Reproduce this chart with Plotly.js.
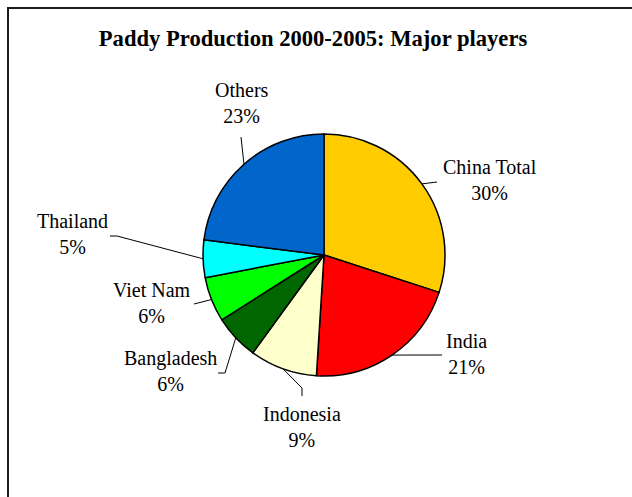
<!DOCTYPE html>
<html>
<head>
<meta charset="utf-8">
<script src="https://cdn.plot.ly/plotly-3.0.1.min.js"></script>
<style>html,body{margin:0;padding:0;background:#fff;}#chart{width:632px;height:497px;}</style>
</head>
<body>
<div id="chart"></div>
<script>
// ---- data ----
var categories = ["China Total", "India", "Indonesia", "Bangladesh", "Viet Nam", "Thailand", "Others"];
var shares = [30, 21, 9, 6, 6, 5, 23];
var sliceColors = ["#FFCC00", "#FF0000", "#FFFFCC", "#006600", "#00FF00", "#00FFFF", "#0066CC"];
var chartTitle = "Paddy Production 2000-2005: Major players";

// ---- layout (pixels) ----
var W = 632, H = 497;
var cx = 324, cy = 255, R = 121;
function px(x){ return x / W; }
function py(y){ return 1 - y / H; }

// label placement and leader-line elbow points (pixels) per category
var labelPos = [[490, 180], [466, 354], [302, 427], [170, 371], [152, 303], [72, 234], [242, 103]];
var leaderPts = [
  [[437, 182]],
  [[442, 355]],
  [[302, 388], [302, 396]],
  [[225, 373], [218, 373]],
  [[194, 304]],
  [[117, 236], [110, 236]],
  [[241, 137]]
];

var total = shares.reduce(function(a,b){return a+b;}, 0);
var annotations = [];
var shapes = [];
var cum = 0;
for (var i = 0; i < categories.length; i++) {
  var mid = (cum + shares[i] / 2) / total * 2 * Math.PI;
  cum += shares[i];
  var ex = cx + R * Math.sin(mid);
  var ey = cy - R * Math.cos(mid);
  var pct = Math.round(shares[i] / total * 100) + "%";
  annotations.push({
    xref: "paper", yref: "paper",
    x: px(labelPos[i][0]), y: py(labelPos[i][1]),
    xanchor: "center", yanchor: "middle",
    text: categories[i] + "<br>" + pct,
    showarrow: false,
    font: {family: "Liberation Serif, Times New Roman, serif", size: 20, color: "#000"}
  });
  var path = "M" + px(ex) + "," + py(ey);
  for (var k = 0; k < leaderPts[i].length; k++) {
    path += " L" + px(leaderPts[i][k][0]) + "," + py(leaderPts[i][k][1]);
  }
  shapes.push({type: "path", xref: "paper", yref: "paper", path: path,
    line: {color: "#000", width: 1}});
}
// outer frame
shapes.push({type: "rect", xref: "paper", yref: "paper",
  x0: px(8), y0: py(8), x1: 1.05, y1: -0.05,
  line: {color: "#1a1a1a", width: 2}, fillcolor: "rgba(0,0,0,0)", layer: "above"});

var trace = {
  type: "pie",
  labels: categories,
  values: shares,
  sort: false,
  direction: "clockwise",
  rotation: 0,
  textinfo: "none",
  hoverinfo: "label+percent",
  marker: {colors: sliceColors, line: {color: "#000", width: 1.5}},
  domain: {x: [px(cx - R), px(cx + R)], y: [py(cy + R), py(cy - R)]},
  showlegend: false
};

var layout = {
  width: W, height: H,
  margin: {l: 0, r: 0, t: 0, b: 0},
  paper_bgcolor: "#fff",
  title: {text: "<b>" + chartTitle + "</b>", x: px(313), xanchor: "center", y: py(38), yanchor: "middle",
    font: {family: "Liberation Serif, Times New Roman, serif", size: 22.6, color: "#000"}},
  annotations: annotations,
  shapes: shapes,
  showlegend: false
};

Plotly.newPlot("chart", [trace], layout, {displayModeBar: false, staticPlot: true});
</script>
</body>
</html>
